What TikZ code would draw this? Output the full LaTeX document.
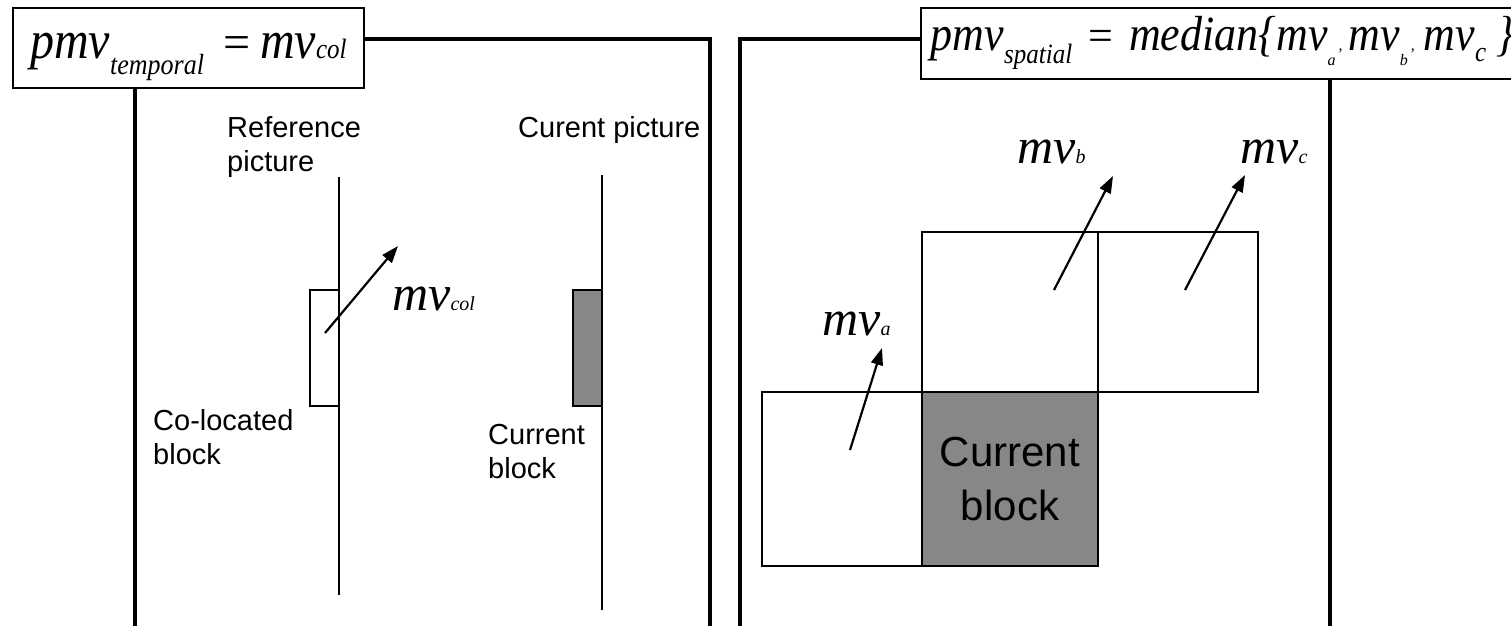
\documentclass[tikz,border=0pt]{standalone}
\usepackage{fontspec}
\usepackage{graphicx}
\setmainfont{Liberation Serif}
\newfontfamily\arialf{Liberation Sans}
\usetikzlibrary{arrows.meta}
\newcommand\FBigL{\fontsize{48}{50}\selectfont\itshape}
\newcommand\FBigR{\fontsize{44}{50}\selectfont\itshape}
\newcommand\FEqL{\fontsize{48}{50}\selectfont\upshape}
\newcommand\FEqR{\fontsize{44}{50}\selectfont\upshape}
\newcommand\FSub{\fontsize{26}{28}\selectfont\itshape}
\newcommand\FSubR{\fontsize{25}{28}\selectfont\itshape}
\newcommand\FTiny{\fontsize{16}{20}\selectfont\itshape}
\newcommand\FMv{\fontsize{50}{52}\selectfont\itshape}
\newcommand\FMvs{\fontsize{20}{22}\selectfont\itshape}
\newcommand\Tall[1]{\scalebox{1}[1.12]{#1}}
\begin{document}
\begin{tikzpicture}[x=1pt,y=-1pt,
  frame/.style={line width=3.8pt},
  thinline/.style={line width=1.4pt},
  fbox/.style={draw, line width=1.8pt, fill=white, inner sep=0pt},
  blk/.style={draw, line width=1.5pt, inner sep=0pt},
  shade/.style={fill={rgb,255:red,135;green,135;blue,135}},
  lbl/.style={font=\arialf\fontsize{29}{34}\selectfont, align=left, inner sep=0pt},
  mvl/.style={inner sep=0pt, anchor=base west},
  arr/.style={line width=2.2pt, -{Triangle[length=17pt,width=12pt]}}
]
\useasboundingbox (0,0) rectangle (1511,625);
\fill[white] (0,0) rectangle (1511,625);

% ---------- left panel ----------
\draw[frame] (135,630) -- (135,39) -- (710,39) -- (710,630);
\node[fbox, anchor=north west, minimum width=351pt, text height=51pt, text depth=29pt] (ftemp) at (12,7)
  {\Tall{\FBigL pmv}\raisebox{-16pt}{\Tall{\FSub temporal}}\hspace{19pt}{\FEqL =}\hspace{10pt}\Tall{\FBigL mv}\Tall{\fontsize{25}{28}\selectfont\itshape col}};

\coordinate (rtop) at (339,177);
\coordinate (rbot) at (339,595);
\draw[thinline] (rtop) -- (rbot);
\coordinate (ctop) at (602,175);
\coordinate (cbot) at (602,610);
\draw[thinline] (ctop) -- (cbot);

\node[lbl, anchor=north west] (reflbl) at (227,116) {Reference\\picture};
\node[lbl, anchor=north west] (curlbl) at (518,116) {Curent picture};
\node[lbl, anchor=north west] (collbl) at (153,409) {Co-located\\block};
\node[lbl, anchor=north west] (cblbl) at (488,424) {Current\\block};

\node[blk, fill=white, minimum width=29pt, minimum height=116pt] (colb) at (324.5,348) {};
\node[blk, shade, minimum width=29pt, minimum height=116pt] (curb) at (587.5,348) {};

\coordinate (colt) at (325,333);
\coordinate (colh) at (398,246);
\draw[arr] (colt) -- (colh);
\node[mvl] (mvcol) at (392,310) {{\FMv mv}{\FMvs col}};

% ---------- right panel ----------
\draw[frame] (740,630) -- (740,39) -- (1600,39);
\draw[frame] (1330,39) -- (1330,630);
\node[fbox, anchor=north west, text height=43pt, text depth=28pt, inner xsep=10pt] (fspat) at (920,7)
  {\makebox[640pt][l]{\Tall{\FBigR pmv}\raisebox{-13pt}{\Tall{\FSubR spatial}}\hspace{16pt}{\FEqR =}\hspace{16pt}\Tall{\FBigR median\{mv}\raisebox{-15pt}{\FTiny a}{\FTiny\hspace{3pt},}\hspace{6pt}\Tall{\FBigR mv}\raisebox{-15pt}{\FTiny b}{\FTiny\hspace{3pt},}\hspace{9pt}\Tall{\FBigR mv}\raisebox{-11pt}{\Tall{\FSubR c}}\hspace{10pt}\Tall{\FBigR\}}}};

\node[blk, fill=white, minimum width=160pt, minimum height=174pt] (ba) at (842,479) {};
\node[blk, fill=white, minimum width=176pt, minimum height=160pt] (bb) at (1010,312) {};
\node[blk, fill=white, minimum width=160pt, minimum height=160pt] (bc) at (1178,312) {};
\node[blk, shade, minimum width=176pt, minimum height=174pt,
  font=\arialf\fontsize{42}{54}\selectfont, align=center] (bcur) at (1010,479) {Current\\block};

\coordinate (at) at (850,450);
\coordinate (ah) at (882,348);
\draw[arr] (at) -- (ah);
\coordinate (btt) at (1054,290);
\coordinate (bh) at (1113,176);
\draw[arr] (btt) -- (bh);
\coordinate (ct) at (1185,290);
\coordinate (ch) at (1245,175);
\draw[arr] (ct) -- (ch);

\node[mvl] (mva) at (822,335) {{\FMv mv}{\FMvs a}};
\node[mvl] (mvb) at (1017,163) {{\FMv mv}{\FMvs b}};
\node[mvl] (mvc) at (1240,163) {{\FMv mv}{\FMvs c}};
\end{tikzpicture}
\end{document}
